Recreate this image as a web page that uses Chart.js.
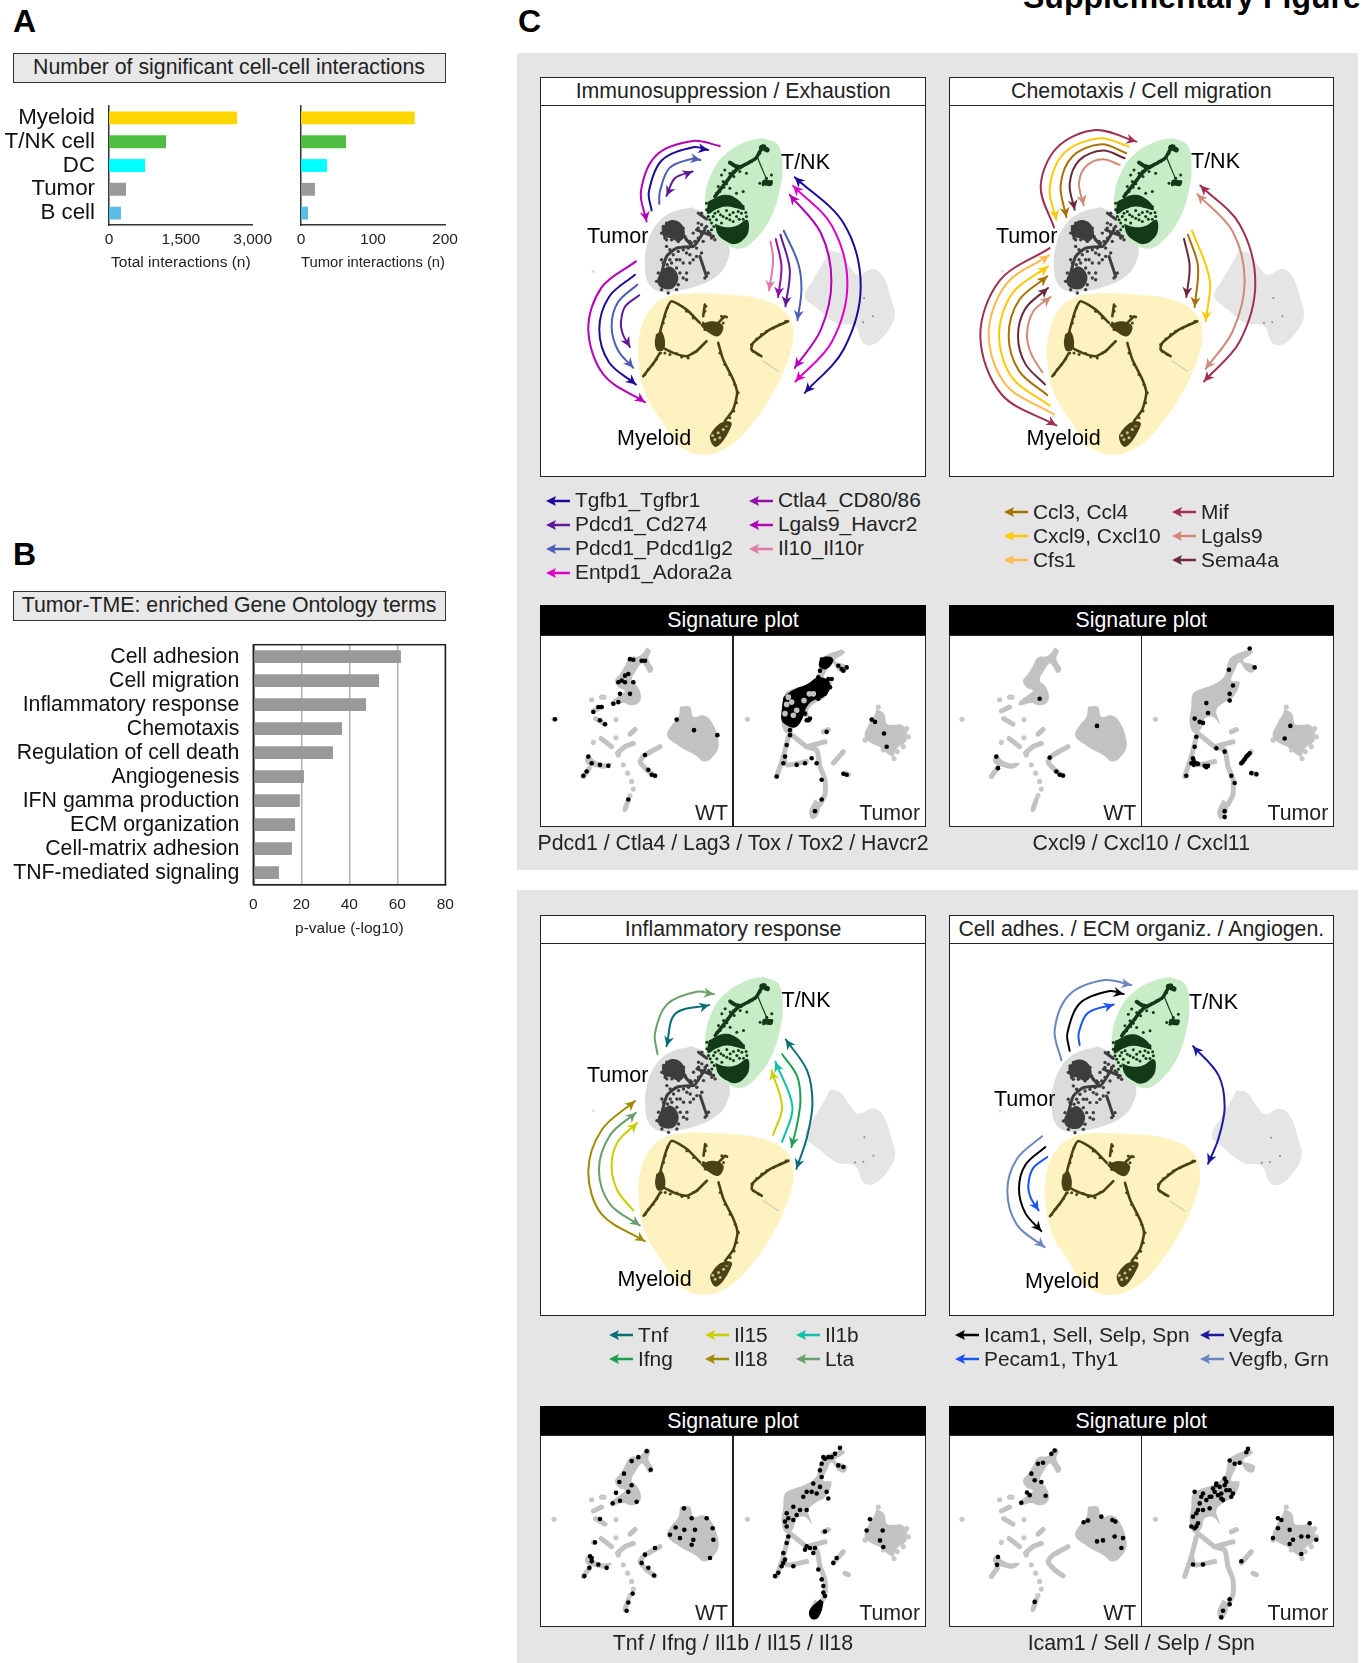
<!DOCTYPE html>
<html>
<head>
<meta charset="utf-8">
<title>Supplementary Figure</title>
<script src="https://cdn.jsdelivr.net/npm/chart.js@4"></script>
<style>
  html, body { margin: 0; padding: 0; background: #fff; }
  #page { position: relative; width: 1362px; height: 1663px; overflow: hidden; font-family: "Liberation Sans", Arial, sans-serif; color: #222; }
  #page canvas { position: absolute; }
  .box { position: absolute; box-sizing: border-box; }
  .txt { position: absolute; white-space: nowrap; line-height: 1; }
</style>
</head>
<body>
<div id="page"></div>
<script>
// --- panel A ---
const cellTypes = ['Myeloid', 'T/NK cell', 'DC', 'Tumor', 'B cell'];
const cellColors = ['#ffd700', '#4fbd3f', '#00ffff', '#999999', '#5cbce8'];
const totalInteractions = [2673, 1190, 752, 355, 250];
const tumorInteractions = [158, 62.5, 36, 19.4, 9.7];

// --- panel B ---
const goTerms = ['Cell adhesion', 'Cell migration', 'Inflammatory response', 'Chemotaxis', 'Regulation of cell death',
  'Angiogenesis', 'IFN gamma production', 'ECM organization', 'Cell-matrix adhesion', 'TNF-mediated signaling'];
const goPvalues = [61.5, 52.4, 47, 37, 33.2, 21.1, 19.4, 17.4, 16.1, 10.7];

const tnkOutline = [[700,234],[745,255],[758,320],[748,400],[720,480],[680,535],[640,565],[600,560],[560,530],[530,470],[527,400],[550,330],[590,280],[650,245],[700,234]];
const tumorOutline = [[485,442],[530,465],[560,520],[597,560],[590,610],[560,650],[500,680],[430,695],[385,695],[355,670],[345,620],[350,560],[375,500],[420,460],[485,442]];
const myeloidOutline = [[480,700],[600,705],[700,720],[770,760],[790,820],[775,900],[730,1000],[670,1090],[600,1160],[520,1186],[450,1160],[395,1085],[345,1000],[325,900],[330,820],[360,750],[410,712],[480,700]];
const bcellOutline = [[900,572],[930,580],[960,620],[985,645],[1030,628],[1060,650],[1085,720],[1095,770],[1070,820],[1030,855],[1000,850],[975,800],[920,790],[860,745],[825,710],[850,660],[880,610],[900,572]];
const bcellDots = [[1003,715],[1030,770],[1000,788],[975,790]];

const tnkBands = [
  [[535,425],[585,405],[625,420],[645,450],[620,445],[590,440],[560,448],[533,462],[535,425]],
  [[555,492],[585,502],[620,498],[652,480],[656,515],[640,540],[615,553],[590,545],[565,525],[555,492]],
];
const tnkPaths = [
  [[700,258],[690,275],[678,295],[650,312],[625,325],[605,345],[590,365],[572,388],[555,410]],
  [[600,308],[615,318],[632,322]],
  [[682,290],[695,322],[712,362]],
  [[705,368],[720,370]],
  [[695,262],[712,270]],
];
const tnkPathWidths = [3.5, 4, 1.2, 6, 5];
const tnkDots = [[550,470],[565,455],[580,470],[600,465],[620,470],[635,460],[545,490],[575,490],[610,485],[640,478],[560,480],[590,452],[625,455],[530,450],[540,480],[650,470],[600,480],[545,510],[640,440],[650,340],[660,305],[690,370],[725,345],[600,385],[620,400],[585,330],[575,345],[640,395],
  [610,335],[600,352],[590,372],[582,382],[570,395],[560,400],[617,330],[630,322],[640,318],[655,310],[665,305],[675,298],[690,280],[695,268],[705,258],[712,266],[600,340],[595,360],[612,350],[580,365],[565,380],[630,335],[555,460],[572,465],[590,475],[610,458],[628,478],[648,458],[535,470],[552,500],[530,430],[547,437],[600,430],[618,438],[575,425],[725,365],[700,375],[710,355]];
const tumorBlobs = [
  [[395,505],[420,482],[450,488],[465,520],[450,545],[420,535],[400,530],[395,505]],
  [[390,640],[420,620],[445,650],[430,685],[395,685],[382,665],[390,640]],
];
const tumorPaths = [
  [[455,520],[490,560],[525,510]],
  [[490,560],[440,565],[410,590],[395,640]],
  [[510,590],[530,650]],
  [[505,460],[530,478]],
  [[500,510],[550,530]],
];
const tumorDots = [[505,490],[530,500],[550,530],[470,580],[500,590],[450,640],[470,660],[425,610],[400,610],[520,545],[540,520],[480,545],[440,600],[410,560],[420,570],[515,460],[460,610],[480,610],[395,600],[525,655],[470,640],[415,700],[440,690],[410,540],[500,565],
  [400,500],[410,490],[430,490],[445,495],[460,505],[465,530],[395,520],[405,535],[425,540],[445,545],[470,540],[485,550],[495,545],[505,535],[515,520],[525,505],[535,515],[545,535],[555,540],[505,505],[490,520],[515,495],[475,565],[460,570],[445,575],[430,585],[420,600],[412,615],[405,630],[515,580],[490,600],[480,585],[535,640],[385,640],[380,665],[395,690],[445,675],[460,655],[440,625],[430,640],[450,600],[400,650]];
const myeloidBlobs = [
  [[378,825],[395,815],[405,860],[385,875],[375,855],[378,825]],
  [[510,795],[550,785],[580,800],[565,830],[530,815],[510,795]],
  [[590,1085],[570,1092],[548,1115],[540,1135],[555,1162],[575,1150],[600,1110],[605,1090],[590,1085]],
];
const myeloidHoles = [[565,1120],[580,1110],[555,1140],[570,1135],[590,1098],[548,1128]];
const myeloidPaths = [
  [[340,950],[375,905],[390,880]],
  [[385,840],[395,800],[410,750],[425,725],[470,750],[510,790]],
  [[525,735],[520,770]],
  [[545,810],[585,770]],
  [[390,860],[430,880],[470,890],[500,875]],
  [[500,875],[530,845]],
  [[565,850],[580,900],[610,960],[622,1000],[610,1050],[585,1085]],
  [[775,785],[720,810],[670,850],[665,870],[695,890]],
];
const myeloidDots = [[345,945],[355,930],[368,915],[380,898],[392,880],[405,880],[420,885],[440,882],[455,892],[475,895],[490,880],[400,790],[405,770],[412,745],[385,830],[380,850],[400,845],[395,870],[520,790],[535,805],[550,815],[570,805],[580,790],[560,825],[545,790],[525,810],[575,770],[590,772],[470,755],[490,775],[525,755],[528,740],[570,880],[585,915],[600,945],[615,975],[625,1000],[620,1030],[612,1055],[600,1075],[590,1095],[680,838],[695,825],[710,815],[730,805],[750,795],[768,785],[665,855],[670,875],[685,885]];
const myeloidFaint = [[700,905],[745,935]];

// --- panel C, arrows: colours per gene pair ---
const cTgfb1 = '#1e0a9a', cCd274 = '#5c1a96', cLg2 = '#4c5fb5', cEntpd = '#e000c8', cCtla4 = '#8f10a8', cLgals = '#b400b8', cIl10 = '#e07aa8';
const cMif = '#a03050', cCxcl = '#ffc800', cCcl = '#a87200', cSema = '#6b2a38', cLg9 = '#cf8a78', cCfs = '#ffb84d';
const cTnf = '#0a6e78', cIfng = '#18a050', cIl1b = '#10c0a8', cIl15 = '#c8d000', cIl18 = '#a08a00', cLta = '#6a9e6a';
const cIcam = '#000000', cPecam = '#1a55f0', cVegfa = '#1a1aa0', cVegfb = '#6a86c0';

const arrowsImmuno = [
  [cLgals, 'end', [[570,258],[490,243],[380,285],[333,395],[350,485]]],
  [cTgfb1, 'end', [[365,452],[357,395],[396,301],[490,262],[535,270]]],
  [cLg2, 'end', [[388,432],[390,395],[419,324],[490,296],[512,300]]],
  [cCd274, 'both', [[410,408],[435,355],[488,335]]],
  [cLgals, 'end', [[318,605],[215,683],[175,810],[222,947],[345,1028]]],
  [cTgfb1, 'end', [[315,645],[237,712],[208,810],[237,908],[318,975]]],
  [cLg2, 'end', [[322,675],[264,728],[245,800],[264,872],[310,925]]],
  [cCd274, 'end', [[328,707],[286,740],[273,790],[280,827],[300,862]]],
  [cIl10, 'end', [[722,545],[730,600],[718,692]]],
  [cCtla4, 'end', [[738,538],[755,620],[745,712]]],
  [cCd274, 'end', [[752,525],[780,630],[767,740]]],
  [cLg2, 'end', [[762,513],[805,610],[815,690],[803,782]]],
  [cTgfb1, 'both', [[795,352],[942,491],[993,680],[942,869],[825,1000]]],
  [cEntpd, 'both', [[790,378],[906,497],[953,672],[906,847],[797,966]]],
  [cLgals, 'both', [[780,405],[873,519],[905,665],[873,811],[795,925]]],
];
const arrowsChemo = [
  [cMif, 'end', [[343,503],[303,380],[352,263],[467,210],[590,245]]],
  [cCxcl, 'end', [[568,260],[480,235],[374,279],[330,385],[350,480]]],
  [cCcl, 'end', [[560,280],[485,253],[399,289],[363,375],[380,472]]],
  [cSema, 'end', [[555,295],[490,272],[419,301],[390,372],[405,450]]],
  [cLg9, 'end', [[540,315],[490,298],[439,319],[418,370],[432,436]]],
  [cMif, 'end', [[330,565],[180,663],[122,830],[186,1005],[350,1098]]],
  [cCfs, 'end', [[343,1065],[199,976],[147,825],[199,674],[328,587]]],
  [cCxcl, 'end', [[330,1038],[218,955],[178,828],[218,701],[325,620]]],
  [cCcl, 'end', [[323,1007],[238,934],[207,828],[238,722],[323,650]]],
  [cSema, 'end', [[316,975],[257,913],[235,830],[257,747],[325,685]]],
  [cLg9, 'end', [[308,938],[275,884],[262,825],[281,755],[333,712]]],
  [cSema, 'end', [[733,537],[750,620],[740,712]]],
  [cCcl, 'end', [[745,525],[775,620],[765,742]]],
  [cCxcl, 'end', [[757,512],[810,660],[798,785]]],
  [cMif, 'both', [[782,377],[900,494],[947,670],[900,846],[793,966]]],
  [cLg9, 'both', [[773,403],[879,515],[915,665],[879,815],[798,928]]],
];
const arrowsInflam = [
  [cLta, 'end', [[383,462],[375,400],[412,312],[500,275],[552,282]]],
  [cTnf, 'both', [[410,438],[436,341],[538,315]]],
  [cIl18, 'both', [[345,1022],[215,941],[175,815],[215,689],[315,602]]],
  [cLta, 'both', [[330,975],[240,911],[207,808],[240,705],[318,637]]],
  [cIl15, 'end', [[310,930],[263,871],[245,798],[263,725],[322,668]]],
  [cIl15, 'end', [[730,703],[757,620],[725,510]]],
  [cIl1b, 'end', [[757,725],[788,620],[737,485]]],
  [cIfng, 'end', [[757,462],[802,528],[812,600],[802,672],[785,740]]],
  [cTnf, 'both', [[768,418],[832,511],[848,610],[832,709],[800,805]]],
];
const arrowsAdhes = [
  [cVegfb, 'end', [[365,480],[345,390],[389,284],[495,240],[575,255]]],
  [cIcam, 'end', [[390,452],[383,400],[420,310],[510,273],[552,282]]],
  [cPecam, 'end', [[420,435],[417,400],[444,339],[522,313]]],
  [cVegfb, 'end', [[307,708],[232,775],[203,870],[232,973],[315,1040]]],
  [cIcam, 'end', [[317,740],[257,794],[238,865],[257,938],[305,992]]],
  [cPecam, 'end', [[323,770],[280,804],[266,855],[274,894],[297,930]]],
  [cVegfa, 'both', [[760,438],[836,524],[855,620],[836,716],[805,790]]],
];

// --- legends ---
const legendImmuno = [['Tgfb1_Tgfbr1', cTgfb1], ['Pdcd1_Cd274', cCd274], ['Pdcd1_Pdcd1lg2', cLg2], ['Entpd1_Adora2a', cEntpd]];
const legendImmuno2 = [['Ctla4_CD80/86', cCtla4], ['Lgals9_Havcr2', cLgals], ['Il10_Il10r', cIl10]];
const legendChemo = [['Ccl3, Ccl4', cCcl], ['Cxcl9, Cxcl10', cCxcl], ['Cfs1', cCfs]];
const legendChemo2 = [['Mif', cMif], ['Lgals9', cLg9], ['Sema4a', cSema]];
const legendInflam = [['Tnf', cTnf], ['Ifng', cIfng]];
const legendInflam2 = [['Il15', cIl15], ['Il18', cIl18]];
const legendInflam3 = [['Il1b', cIl1b], ['Lta', cLta]];
const legendAdhes = [['Icam1, Sell, Selp, Spn', cIcam], ['Pecam1, Thy1', cPecam]];
const legendAdhes2 = [['Vegfa', cVegfa], ['Vegfb, Grn', cVegfb]];

// --- signature plots: grey cell shapes, WT and Tumor ---
const wtShapes = [
  [[350,500],[362,510],[355,535],[370,565],[358,577],[345,558],[335,548],[318,570],[305,600],[320,615],[332,640],[328,665],[305,675],[280,668],[245,675],[243,665],[275,640],[285,630],[265,620],[255,600],[270,580],[285,555],[300,530],[330,525],[350,500]],
  [[450,678],[480,680],[490,710],[520,705],[545,725],[565,780],[560,815],[525,845],[495,825],[450,800],[412,768],[425,735],[445,710],[450,678]],
  [[180,822],[190,838],[215,850],[245,850],[225,866],[190,860],[170,852],[165,835],[180,822]],
];
const wtStrokes = [
  [[190,692],[215,680]], [[197,715],[225,732]], [[213,775],[245,800]], [[262,820],[285,800],[310,790]], [[300,762],[315,748]],
  [[160,890],[178,865]], [[390,800],[345,825],[330,845],[350,870],[375,888]], [[295,960],[285,990]],
];
const wtSpecks = [[72,717],[185,658],[215,650],[222,650],[258,773],[190,787],[280,855],[293,880],[305,905],[310,928],[300,948],[258,718],[265,825]];
const tumorShapes = [
  [[935,505],[945,515],[915,540],[950,555],[945,575],[925,570],[905,545],[890,570],[880,600],[905,605],[885,650],[860,665],[835,690],[845,730],[825,710],[800,715],[790,745],[770,760],[755,730],[760,680],[765,640],[790,625],[830,610],[860,585],[870,545],[885,525],[935,505]],
  [[1040,685],[1062,700],[1072,732],[1118,735],[1130,778],[1098,808],[1088,830],[1050,802],[1005,772],[1020,725],[1033,705],[1040,685]],
  [[855,960],[870,975],[862,1010],[845,1018],[838,995],[855,960]],
];
const tumorStrokes = [
  [[780,760],[830,800],[860,810],[870,860],[885,900],[885,945],[870,975]],
  [[775,770],[760,830],[740,890]], [[760,830],[770,855],[830,845]], [[830,800],[885,785]],
  [[940,815],[910,850]], [[945,880],[955,885]], [[880,755],[895,748]],
];
const tumorSpecks = [[652,717],[1130,745],[1120,800],[1005,780],[1060,810],[1135,770],[1102,815],[1092,836],[1045,680],[1125,750]];

// black expressing cells per signature plot (read in each plot's own picture)
const sigImmunoWT = [[75,717],[300,535],[310,537],[345,540],[335,540],[295,580],[265,605],[285,605],[310,605],[270,640],[265,665],[250,670],[205,680],[190,695],[215,680],[210,720],[225,732],[175,830],[185,850],[210,855],[235,858],[160,888],[170,875],[345,825],[365,885],[375,888],[355,870],[295,960],[440,718],[492,750],[562,765],[285,585],[275,600],[300,640]];
const sigImmunoTumor = [[935,565],[780,765],[770,795],[765,830],[760,850],[740,890],[800,855],[825,850],[845,835],[860,850],[890,755],[835,720],[950,885],[940,882],[1025,718],[1035,725],[1062,760],[1070,800],[875,960],[855,995],[875,900],[895,595],[900,620],[865,655],[885,640],[800,640],[815,630],[850,610],[880,600],[905,595],[890,625],[780,750],[825,700],[830,720],[840,715],[925,555],[950,560],[940,570],[885,555],[870,570],[865,590]];
const sigImmunoTumorMass = [
  [[760,650],[790,628],[830,612],[865,590],[895,600],[900,625],[880,650],[850,660],[830,680],[815,720],[795,742],[770,735],[755,720],[755,690],[760,650]],
  [[870,530],[900,528],[910,540],[890,565],[868,558],[870,530]],
];
const sigImmunoTumorHoles = [[775,650],[785,665],[770,672],[800,690],[822,660],[790,705],[838,640],[765,700],[850,640]];
const sigChemoWT = [[300,655],[472,737],[175,865],[170,830],[330,833],[350,875],[360,885],[370,887]];
const sigChemoTumor = [[930,503],[945,560],[868,567],[880,615],[870,640],[870,660],[800,668],[805,698],[780,725],[790,728],[765,715],[770,770],[765,800],[760,835],[755,850],[770,850],[740,888],[795,858],[805,858],[830,805],[855,815],[875,888],[885,910],[855,995],[855,1013],[930,820],[920,830],[910,845],[935,880],[950,883],[1052,737],[1035,775],[762,843],[775,852],[762,855],[925,825],[915,838],[905,850],[800,862]];
const sigInflamWT = [[305,452],[325,440],[350,422],[362,478],[282,490],[268,515],[305,525],[258,548],[295,545],[270,572],[248,580],[320,575],[195,698],[210,627],[180,740],[185,755],[178,775],[205,765],[230,775],[163,800],[345,735],[375,715],[335,760],[355,775],[372,798],[308,853],[295,880],[290,905],[462,595],[485,625],[530,625],[437,653],[463,660],[495,660],[420,675],[548,655],[450,685],[490,690],[550,690],[485,705],[540,745],[185,745]];
const sigInflamTumor = [[930,412],[915,430],[905,440],[880,440],[875,460],[870,480],[940,470],[925,465],[850,520],[830,545],[860,550],[895,565],[890,545],[790,590],[770,610],[790,630],[770,650],[810,600],[830,600],[775,680],[760,730],[755,770],[735,800],[790,770],[830,710],[850,730],[855,715],[920,745],[910,760],[885,665],[1020,628],[1058,662],[1010,662],[1050,692],[1060,712],[865,780],[880,830],[885,860],[820,560],[845,545],[775,625],[800,615],[765,635],[885,445],[895,440],[875,500],[870,530],[770,700],[765,750],[745,790],[825,720],[840,715],[875,810],[880,850],[760,760]];
const sigInflamTumorMass = [[[870,870],[880,880],[865,925],[845,930],[838,905],[870,870]]];
const sigAdhesWT = [[345,420],[335,430],[310,457],[295,460],[275,490],[285,510],[305,515],[262,547],[318,557],[270,555],[245,578],[175,742],[172,766],[432,637],[485,620],[518,630],[527,635],[545,715],[472,695],[490,692],[525,680],[550,685],[445,632],[285,878]];
const sigAdhesTumor = [[920,425],[925,415],[870,450],[885,460],[900,457],[855,505],[825,545],[840,530],[860,540],[880,550],[850,570],[830,520],[790,550],[765,545],[780,580],[810,595],[760,620],[775,640],[765,655],[755,650],[790,600],[770,610],[810,560],[760,765],[905,755],[790,765],[870,870],[870,885],[850,905],[845,925],[1025,630],[1015,655],[1050,660],[1085,680],[1110,640],[1130,690],[1000,685],[1060,690],[1085,733],[1050,703],[1015,625],[1105,680],[845,550],[835,555],[860,515],[775,600],[800,570],[770,650],[830,525],[820,535],[855,525],[870,540],[815,560],[845,565],[875,560],[785,560]];

Chart.defaults.font.family = '"Liberation Sans", Arial, sans-serif';
Chart.defaults.animation = false;
Chart.defaults.responsive = false;

const page = document.getElementById('page');

function addBox(x, y, w, h, css) {
  const d = document.createElement('div');
  d.className = 'box';
  d.style.cssText = `left:${x}px;top:${y}px;width:${w}px;height:${h}px;${css}`;
  page.appendChild(d);
  return d;
}

// y is the text's vertical centre, align 0 = left, 0.5 = centre, 1 = right
function addText(str, x, y, align = 0, size = 21.3, css = '') {
  const s = document.createElement('span');
  s.className = 'txt';
  s.textContent = str;
  s.style.cssText = `left:${x}px;top:${y + 1.2}px;font-size:${size}px;transform:translate(${-align * 100}%,-50%);${css}`;
  page.appendChild(s);
  return s;
}

function addCanvas(x, y, w, h) {
  const c = document.createElement('canvas');
  c.width = w; c.height = h;
  c.style.left = x + 'px';
  c.style.top = y + 'px';
  page.appendChild(c);
  return c;
}

function toXY(pts, dx = 0, dy = 0) {
  return pts.map(p => ({ x: p[0] + dx, y: p[1] + dy }));
}
const blobSet = (pts, color, dx, dy) => ({ data: toXY(pts, dx, dy), showLine: true, tension: 0.4, fill: 'shape', backgroundColor: color, borderColor: color, borderWidth: 0, pointRadius: 0 });
const pathSet = (pts, color, width, dx, dy) => ({ data: toXY(pts, dx, dy), showLine: true, tension: 0.2, fill: false, borderColor: color, borderWidth: width, borderCapStyle: 'round', pointRadius: 0 });
const dotSet = (pts, color, r, dx, dy) => ({ data: toXY(pts, dx, dy), showLine: false, pointRadius: r, pointBorderWidth: 0, backgroundColor: color });

// arrow heads sit at the ends of a curve, follows the library's own point positions
const arrowHeads = {
  id: 'arrowHeads',
  afterDatasetsDraw(chart) {
    const ctx = chart.ctx;
    chart.data.datasets.forEach((ds, i) => {
      if (!ds.arrowHeads) return;
      const pts = chart.getDatasetMeta(i).data;
      const last = pts[pts.length - 1], first = pts[0];
      drawHead(ctx, last.x, last.y, last.x - last.cp1x, last.y - last.cp1y, ds.borderColor);
      if (ds.arrowHeads === 'both') drawHead(ctx, first.x, first.y, first.x - first.cp2x, first.y - first.cp2y, ds.borderColor);
    });
  }
};
function drawHead(ctx, x, y, ux, uy, color) {
  const len = Math.hypot(ux, uy) || 1;
  ux /= len; uy /= len;
  const vx = -uy, vy = ux;
  ctx.save();
  ctx.fillStyle = color;
  ctx.beginPath();
  ctx.moveTo(x, y);
  ctx.lineTo(x - ux * 10 + vx * 5, y - uy * 10 + vy * 5);
  ctx.lineTo(x - ux * 7, y - uy * 7);
  ctx.lineTo(x - ux * 10 - vx * 5, y - uy * 10 - vy * 5);
  ctx.closePath();
  ctx.fill();
  ctx.restore();
}

const frame = {
  id: 'frame',
  afterDraw(chart) {
    const a = chart.chartArea, ctx = chart.ctx;
    ctx.save();
    ctx.strokeStyle = '#222';
    ctx.lineWidth = 1.5;
    ctx.strokeRect(a.left, a.top, a.right - a.left, a.bottom - a.top);
    ctx.restore();
  }
};

// hidden linear scales so the marks land where the values say
function plotScales(xmin, xmax, ymin, ymax) {
  return {
    x: { type: 'linear', display: false, min: xmin, max: xmax },
    y: { type: 'linear', display: false, min: ymin, max: ymax, reverse: true }
  };
}
function plotChart(canvas, datasets, scales, plugins = []) {
  // Chart.js paints the first dataset last, so the list is flipped to keep a back-to-front order here
  return new Chart(canvas, {
    type: 'scatter',
    data: { datasets: datasets.slice().reverse() },
    options: {
      layout: { padding: 0, autoPadding: false },
      plugins: { legend: { display: false }, tooltip: { enabled: false } },
      scales: scales
    },
    plugins: plugins
  });
}

function barChart(canvas, labels, values, colors, opt) {
  return new Chart(canvas, {
    type: 'bar',
    data: { labels: labels, datasets: [{ data: values, backgroundColor: colors, barPercentage: opt.bar, categoryPercentage: 1 }] },
    options: {
      indexAxis: 'y',
      layout: { padding: opt.padding, autoPadding: false },
      plugins: { legend: { display: false }, tooltip: { enabled: false } },
      scales: {
        x: {
          min: 0, max: opt.max,
          afterFit: a => { a.height = opt.xHeight; a.paddingLeft = 0; a.paddingRight = 0; },
          afterBuildTicks: a => { a.ticks = opt.ticks.map(v => ({ value: v })); },
          grid: opt.grid || { display: false, drawTicks: false },
          border: { display: true, color: '#333', width: 1.5 },
          ticks: { color: '#222', font: { size: 15.5 }, padding: opt.tickPad, maxRotation: 0, callback: v => v.toLocaleString('en-US') },
          title: { display: true, text: opt.title, color: '#222', font: { size: 15.5 }, padding: { top: 0, bottom: opt.titlePad } }
        },
        y: {
          // label height would otherwise push the plot area down
          afterFit: a => { a.width = opt.yWidth; a.paddingTop = 0; a.paddingBottom = 0; },
          grid: { display: false, drawTicks: false },
          border: { display: true, color: '#333', width: 1.5 },
          ticks: { display: opt.showLabels, color: '#111', font: { size: opt.labelSize || 21.3 }, padding: 14, autoSkip: false }
        }
      }
    },
    plugins: opt.plugins || []
  });
}

// ---------- page furniture ----------
const bold = 'font-weight:bold;color:#000;';
addText('A', 13, 19.5, 0, 32, bold);
addText('B', 13, 552.5, 0, 32, bold);
addText('C', 518, 19.5, 0, 32, bold);
addText('Supplementary Figure', 1023, -4, 0, 32, bold);

addBox(517, 53, 841, 817, 'background:#e5e5e5;');
addBox(517, 890, 841, 773, 'background:#e5e5e5;');

addBox(12.5, 52.5, 433.5, 30, 'background:#e8e8e8;border:1.5px solid #333;');
addText('Number of significant cell-cell interactions', 229, 66.5, 0.5);
addBox(12.5, 591, 433.5, 30, 'background:#e8e8e8;border:1.5px solid #333;');
addText('Tumor-TME: enriched Gene Ontology terms', 229, 605, 0.5);

// ---------- panel A ----------
barChart(addCanvas(0, 100, 280, 175), cellTypes, totalInteractions, cellColors, {
  bar: 0.54, padding: { top: 6, right: 27.3 }, max: 3000, ticks: [0, 1500, 3000], xHeight: 50, yWidth: 109, tickPad: 5,
  title: 'Total interactions (n)', titlePad: 3, showLabels: true, labelSize: 22.3
});
barChart(addCanvas(280, 100, 190, 175), cellTypes, tumorInteractions, cellColors, {
  bar: 0.54, padding: { top: 6, right: 25 }, max: 200, ticks: [0, 100, 200], xHeight: 50, yWidth: 21, tickPad: 5,
  title: 'Tumor interactions (n)', titlePad: 3, showLabels: false
});

// ---------- panel B ----------
barChart(addCanvas(0, 630, 480, 310), goTerms, goPvalues, '#999999', {
  bar: 0.53, padding: { top: 14.7, right: 34.7 }, max: 80, ticks: [0, 20, 40, 60, 80], xHeight: 55.3, yWidth: 253.3, tickPad: 11,
  title: 'p-value (-log10)', titlePad: 2, showLabels: true, plugins: [frame],
  grid: { display: true, color: '#b0b0b0', lineWidth: 1.5, drawTicks: false }
});

// ---------- panel C ----------
function mapDatasets(dx, dy) {
  const ds = [
    blobSet(bcellOutline, '#e5e5e5', dx, dy),
    dotSet(bcellDots, '#888', 1, dx, dy),
    blobSet(myeloidOutline, '#fdf2c0', dx, dy),
    blobSet(tumorOutline, '#dcdcdc', dx, dy),
    blobSet(tnkOutline, '#c9ecc8', dx, dy),
    pathSet(myeloidFaint, '#d8d4b8', 1.5, dx, dy),
    dotSet([[190,635]], '#dddddd', 1.5, dx, dy),
  ];
  myeloidBlobs.forEach(b => ds.push(blobSet(b, '#4a4216', dx, dy)));
  ds.push(dotSet(myeloidHoles, '#c9bd8a', 1.5, dx, dy));
  myeloidPaths.forEach(p => ds.push(pathSet(p, '#4a4216', 2.6, dx, dy)));
  ds.push(dotSet(myeloidDots, '#4a4216', 1.5, dx, dy));
  tumorBlobs.forEach(b => ds.push(blobSet(b, '#3d3d3d', dx, dy)));
  tumorPaths.forEach(p => ds.push(pathSet(p, '#3d3d3d', 3, dx, dy)));
  ds.push(dotSet(tumorDots, '#3d3d3d', 1.7, dx, dy));
  tnkBands.forEach(b => ds.push(blobSet(b, '#123a17', dx, dy)));
  tnkPaths.forEach((p, i) => ds.push(pathSet(p, '#123a17', tnkPathWidths[i], dx, dy)));
  ds.push(dotSet(tnkDots, '#123a17', 1.5, dx, dy));
  return ds;
}

function mapPanel(p) {
  const w = p.x1 - p.x0;
  addBox(p.x0 - 0.75, p.top, w + 1.5, p.mid - p.top + 0.75, 'background:#fff;border:1.5px solid #222;');
  addText(p.title, p.x0 + w / 2, (p.top + p.mid) / 2 - 1, 0.5);
  addBox(p.x0 - 0.75, p.mid - 0.75, w + 1.5, p.bottom - p.mid + 1.5, 'background:#fff;border:1.5px solid #222;');
  const canvas = addCanvas(p.x0, p.mid, w, p.bottom - p.mid);
  const ds = mapDatasets(p.dx, p.dy);
  p.arrows.forEach(a => {
    const s = pathSet(a[2], a[0], 2);
    s.tension = 0.34;
    s.arrowHeads = a[1];
    ds.push(s);
  });
  plotChart(canvas, ds, plotScales(p.ax0, p.ax1, p.ay0, p.ay1), [arrowHeads]);
  addText('T/NK', p.tnk[0], p.tnk[1], 0, 21.5, 'color:#000;');
  addText('Tumor', p.tum[0], p.tum[1], 0, 21.5, 'color:#000;');
  addText('Myeloid', p.mye[0], p.mye[1], 0, 21.5, 'color:#000;');
}

mapPanel({ title: 'Immunosuppression / Exhaustion', x0: 541, x1: 925.3, top: 77.3, mid: 106, bottom: 476.7,
  ax0: 33, ax1: 1186, ay0: 138, ay1: 1250, dx: 0, dy: 0, arrows: arrowsImmuno,
  tnk: [781, 162], tum: [587, 236], mye: [617, 438] });
mapPanel({ title: 'Chemotaxis / Cell migration', x0: 949.3, x1: 1333.3, top: 77.3, mid: 106, bottom: 476.7,
  ax0: 28, ax1: 1180, ay0: 138, ay1: 1250, dx: -2, dy: 0, arrows: arrowsChemo,
  tnk: [1191, 161], tum: [996, 236], mye: [1026.5, 438] });
mapPanel({ title: 'Inflammatory response', x0: 541, x1: 925.3, top: 915, mid: 944, bottom: 1315,
  ax0: 33, ax1: 1186, ay0: 132, ay1: 1243, dx: 1, dy: -4, arrows: arrowsInflam,
  tnk: [781.5, 1000], tum: [587, 1075], mye: [617.5, 1279] });
mapPanel({ title: 'Cell adhes. / ECM organiz. / Angiogen.', x0: 949.3, x1: 1333.3, top: 915, mid: 944, bottom: 1315,
  ax0: 28, ax1: 1180, ay0: 132, ay1: 1243, dx: -9, dy: -3, arrows: arrowsAdhes,
  tnk: [1189, 1001.5], tum: [994, 1099], mye: [1025, 1280.5] });

function legendColumn(items, arrowX, textX, y0, textLift) {
  items.forEach((it, i) => {
    const y = y0 + i * 24;
    const svg = document.createElementNS('http://www.w3.org/2000/svg', 'svg');
    svg.setAttribute('width', 26);
    svg.setAttribute('height', 12);
    svg.style.cssText = `position:absolute;left:${arrowX}px;top:${y - 6}px;`;
    svg.innerHTML = `<line x1="6" y1="6" x2="24" y2="6" stroke="${it[1]}" stroke-width="2.5"/><polygon points="0,6 10,1 8,6 10,11" fill="${it[1]}"/>`;
    page.appendChild(svg);
    addText(it[0], textX, y - textLift, 0, 20.9);
  });
}
legendColumn(legendImmuno, 546, 575, 500.5, 2);
legendColumn(legendImmuno2, 749, 778, 500.5, 2);
legendColumn(legendChemo, 1004, 1033, 512, 1);
legendColumn(legendChemo2, 1172, 1201, 512, 1);
legendColumn(legendInflam, 609, 638, 1335, 1.5);
legendColumn(legendInflam2, 705, 734, 1335, 1.5);
legendColumn(legendInflam3, 795.5, 825, 1335, 1.5);
legendColumn(legendAdhes, 955, 984, 1335, 1.5);
legendColumn(legendAdhes2, 1200, 1229, 1335, 1.5);

function sigDatasets(shapes, strokes, specks, dots, mass, holes, dx, dy) {
  const ds = [];
  shapes.forEach(s => ds.push(blobSet(s, '#c2c2c2')));
  strokes.forEach(s => ds.push(pathSet(s, '#c2c2c2', 5)));
  ds.push(dotSet(specks, '#c8c8c8', 2.6));
  (mass || []).forEach(m => ds.push(blobSet(m, '#000', dx, dy)));
  if (holes) ds.push(dotSet(holes, '#c2c2c2', 2.8, dx, dy));
  ds.push(dotSet(dots, '#000', 2.3, dx, dy));
  return ds;
}

function sigPanel(p) {
  const mid = p.x0 + 192;
  addBox(p.x0 - 0.75, p.top, 385.5, p.head - p.top, 'background:#000;');
  addText('Signature plot', p.x0 + 192, (p.top + p.head) / 2, 0.5, 21.3, 'color:#fff;');
  addBox(p.x0 - 0.75, p.head - 0.5, 385.5, p.bottom - p.head + 1.25, 'background:#fff;border:1.5px solid #222;');
  addBox(mid - 0.75, p.head, 1.5, p.bottom - p.head, 'background:#222;');
  // grey map shapes live in the coordinates of the first signature plot, dots in their own plot's picture
  plotChart(addCanvas(p.x0, p.head + 0.5, 191, p.bottom - p.head - 1),
    sigDatasets(wtShapes, wtStrokes, wtSpecks, p.wt, null, null, p.dx, p.dy), plotScales(33, 606, 465, 1040));
  plotChart(addCanvas(mid + 1, p.head + 0.5, 191, p.bottom - p.head - 1),
    sigDatasets(tumorShapes, tumorStrokes, tumorSpecks, p.tumor, p.tumorMass, p.tumorHoles, p.dx, p.dy), plotScales(612, 1185, 465, 1040));
  addText('WT', mid - 5, p.bottom - 13.5, 1);
  addText('Tumor', p.x0 + 379, p.bottom - 13.5, 1);
  addText(p.caption, p.x0 + 192, p.bottom + 16.5, 0.5);
}

sigPanel({ x0: 541, top: 605.3, head: 635, bottom: 826.7, dx: 0, dy: 0, wt: sigImmunoWT, tumor: sigImmunoTumor, tumorMass: sigImmunoTumorMass, tumorHoles: sigImmunoTumorHoles,
  caption: 'Pdcd1 / Ctla4 / Lag3 / Tox / Tox2 / Havcr2' });
sigPanel({ x0: 949.3, top: 605.3, head: 635, bottom: 826.7, dx: 5, dy: 0, wt: sigChemoWT, tumor: sigChemoTumor,
  caption: 'Cxcl9 / Cxcl10 / Cxcl11' });
sigPanel({ x0: 541, top: 1405.7, head: 1435, bottom: 1626.7, dx: 0, dy: 89, wt: sigInflamWT, tumor: sigInflamTumor, tumorMass: sigInflamTumorMass,
  caption: 'Tnf / Ifng / Il1b / Il15 / Il18' });
sigPanel({ x0: 949.3, top: 1405.7, head: 1435, bottom: 1626.7, dx: 5, dy: 89, wt: sigAdhesWT, tumor: sigAdhesTumor,
  caption: 'Icam1 / Sell / Selp / Spn' });
</script>
</body>
</html>
